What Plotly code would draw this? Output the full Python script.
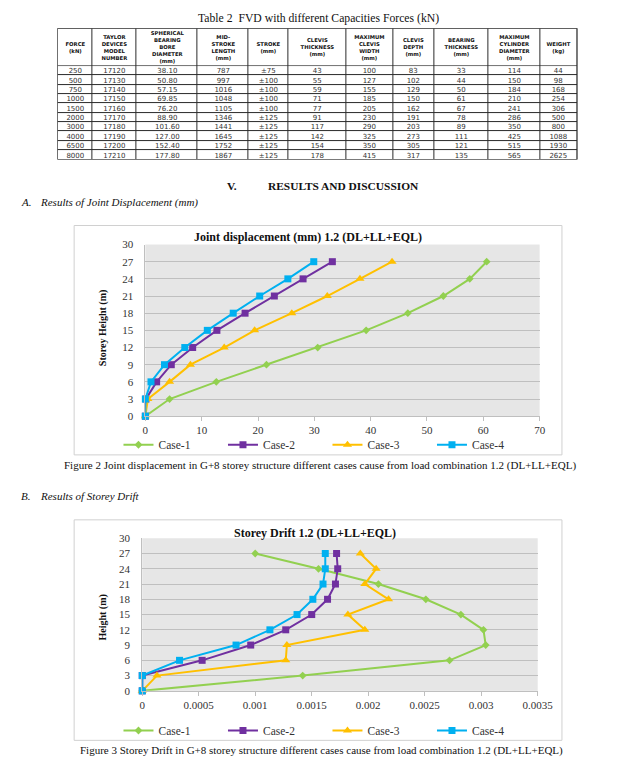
import plotly.graph_objects as go

# ---------------- Table data ----------------
table_headers = [
    "FORCE<br>(kN)",
    "TAYLOR<br>DEVICES<br>MODEL<br>NUMBER",
    "SPHERICAL<br>BEARING<br>BORE<br>DIAMETER<br>(mm)",
    "MID-<br>STROKE<br>LENGTH<br>(mm)",
    "STROKE<br>(mm)",
    "CLEVIS<br>THICKNESS<br>(mm)",
    "MAXIMUM<br>CLEVIS<br>WIDTH<br>(mm)",
    "CLEVIS<br>DEPTH<br>(mm)",
    "BEARING<br>THICKNESS<br>(mm)",
    "MAXIMUM<br>CYLINDER<br>DIAMETER<br>(mm)",
    "WEIGHT<br>(kg)",
]
force_kn = [250, 500, 750, 1000, 1500, 2000, 3000, 4000, 6500, 8000]
model_number = [17120, 17130, 17140, 17150, 17160, 17170, 17180, 17190, 17200, 17210]
bore_diameter = [38.10, 50.80, 57.15, 69.85, 76.20, 88.90, 101.60, 127.00, 152.40, 177.80]
mid_stroke_length = [787, 997, 1016, 1048, 1105, 1346, 1441, 1645, 1752, 1867]
stroke = ["±75", "±100", "±100", "±100", "±100", "±125", "±125", "±125", "±125", "±125"]
clevis_thickness = [43, 55, 59, 71, 77, 91, 117, 142, 154, 178]
max_clevis_width = [100, 127, 155, 185, 205, 230, 290, 325, 350, 415]
clevis_depth = [83, 102, 129, 150, 162, 191, 203, 273, 305, 317]
bearing_thickness = [33, 44, 50, 61, 67, 78, 89, 111, 121, 135]
max_cylinder_diameter = [114, 150, 184, 210, 241, 286, 350, 425, 515, 565]
weight_kg = [44, 98, 168, 254, 306, 500, 800, 1088, 1930, 2625]

# ---------------- Chart data ----------------
case_names = ["Case-1", "Case-2", "Case-3", "Case-4"]
storey_height = [0, 3, 6, 9, 12, 15, 18, 21, 24, 27]

disp_case1 = [0, 4.3, 12.6, 21.5, 30.6, 39.2, 46.6, 52.9, 57.6, 60.6]
disp_case2 = [0, 0.1, 2.0, 4.6, 8.4, 12.7, 17.7, 22.9, 28.0, 33.2]
disp_case3 = [0, 0.45, 4.3, 8.0, 14.0, 19.4, 26.0, 32.3, 38.1, 43.8]
disp_case4 = [0, 0.0, 1.0, 3.4, 7.0, 11.0, 15.6, 20.3, 25.3, 29.9]

drift_case1 = [0, 0.00142, 0.00272, 0.00304, 0.00302, 0.00282, 0.00251, 0.00209, 0.00156, 0.00100]
drift_case2 = [0, 0.0, 0.00053, 0.00096, 0.00127, 0.00150, 0.00164, 0.00171, 0.00173, 0.00172]
drift_case3 = [0, 0.00013, 0.00127, 0.00128, 0.00197, 0.00182, 0.00218, 0.00197, 0.00207, 0.00193]
drift_case4 = [0, 0.0, 0.00033, 0.00083, 0.00113, 0.00137, 0.00151, 0.00160, 0.00162, 0.00162]

disp_ticks = [0, 10, 20, 30, 40, 50, 60, 70]
height_ticks = [0, 3, 6, 9, 12, 15, 18, 21, 24, 27, 30]
drift_ticks = [0, 0.0005, 0.001, 0.0015, 0.002, 0.0025, 0.003, 0.0035]
drift_tick_labels = ["0", "0.0005", "0.001", "0.0015", "0.002", "0.0025", "0.003", "0.0035"]

# ---------------- Layout helpers ----------------
W, H = 642, 769


def px(x):
    return x / W


def py(y):
    return 1 - y / H


col_widths = [36.3, 44.7, 63.7, 52.3, 41.3, 59.0, 49.4, 41.3, 56.0, 53.3, 38.7]
col_edges = [0.0]
for w in col_widths:
    col_edges.append(col_edges[-1] + w)
header_h = 38.3
row_h = 9.5
n_rows = len(force_kn)
row_edges = [header_h + row_h * i for i in range(n_rows + 1)]
table_h = row_edges[-1]

body_text = []
for i in range(n_rows):
    body_text.append([
        str(force_kn[i]), str(model_number[i]), f"{bore_diameter[i]:.2f}",
        str(mid_stroke_length[i]), stroke[i], str(clevis_thickness[i]),
        str(max_clevis_width[i]), str(clevis_depth[i]), str(bearing_thickness[i]),
        str(max_cylinder_diameter[i]), str(weight_kg[i]),
    ])

colors = ["#92d050", "#7030a0", "#ffc000", "#00b0f0"]
symbols = ["diamond", "square", "triangle-up", "square"]
msizes = [6, 7, 8, 7]

SERIF = "Liberation Serif"

fig = go.Figure()

# ---- table as heatmap bricks ----
white = [[0, "#ffffff"], [1, "#ffffff"]]
fig.add_trace(go.Heatmap(
    x=col_edges, y=[0, header_h], z=[[0] * len(col_widths)], text=[table_headers],
    texttemplate="%{text}",
    textfont=dict(family="DejaVu Sans", size=5.3, color="#111111", weight="bold"),
    colorscale=white, zmin=0, zmax=1, showscale=False, xgap=1, ygap=1,
    hoverinfo="skip", xaxis="x3", yaxis="y3",
))
fig.add_trace(go.Heatmap(
    x=col_edges, y=row_edges, z=[[0] * len(col_widths) for _ in range(n_rows)], text=body_text,
    texttemplate="%{text}",
    textfont=dict(family="DejaVu Sans", size=7, color="#333333"),
    colorscale=white, zmin=0, zmax=1, showscale=False, xgap=1, ygap=1,
    hoverinfo="skip", xaxis="x3", yaxis="y3",
))

# ---- chart 1 ----
disp_series = [disp_case1, disp_case2, disp_case3, disp_case4]
for k in range(4):
    fig.add_trace(go.Scatter(
        x=disp_series[k], y=storey_height, name=case_names[k], mode="lines+markers",
        line=dict(color=colors[k], width=2),
        marker=dict(symbol=symbols[k], size=msizes[k], color=colors[k]),
        xaxis="x", yaxis="y", legend="legend", cliponaxis=False,
    ))

# ---- chart 2 ----
drift_series = [drift_case1, drift_case2, drift_case3, drift_case4]
for k in range(4):
    fig.add_trace(go.Scatter(
        x=drift_series[k], y=storey_height, name=case_names[k], mode="lines+markers",
        line=dict(color=colors[k], width=2),
        marker=dict(symbol=symbols[k], size=msizes[k], color=colors[k]),
        xaxis="x2", yaxis="y2", legend="legend2", cliponaxis=False,
    ))

tickfont = dict(family=SERIF, size=11, color="#333333")
axis_common_x = dict(showgrid=False, zeroline=False, showline=True, linecolor="#bfbfbf",
                     ticks="outside", ticklen=4, tickcolor="#bfbfbf", tickfont=tickfont,
                     fixedrange=True)
axis_common_y = dict(showgrid=True, gridcolor="#bfbfbf", gridwidth=1, zeroline=False,
                     showline=True, linecolor="#bfbfbf", ticks="", ticklabelstandoff=9,
                     tickfont=tickfont, tickvals=height_ticks, range=[0, 30], fixedrange=True)

legend_common = dict(orientation="h", xanchor="left", yanchor="middle",
                     font=dict(family=SERIF, size=11.5, color="#333333"),
                     itemwidth=30, entrywidth=59.5, entrywidthmode="pixels",
                     bgcolor="rgba(0,0,0,0)", traceorder="normal")

fig.update_layout(
    width=W, height=H, margin=dict(l=0, r=0, t=0, b=0),
    paper_bgcolor="white", plot_bgcolor="#e6e6e6",
    font=dict(family=SERIF, color="#222222"),
    xaxis=dict(domain=[px(146.7), px(553)], range=[0, 70], tickvals=disp_ticks,
               anchor="y", **axis_common_x),
    yaxis=dict(domain=[py(416.7), py(242.3)], anchor="x", **axis_common_y),
    xaxis2=dict(domain=[px(143.5), px(551)], range=[0, 0.0035], tickvals=drift_ticks,
                ticktext=drift_tick_labels, anchor="y2", **axis_common_x),
    yaxis2=dict(domain=[py(695.7), py(540.7)], anchor="x2", **axis_common_y),
    xaxis3=dict(domain=[px(56), px(592)], range=[0, col_edges[-1]], visible=False,
                anchor="y3", fixedrange=True),
    yaxis3=dict(domain=[py(22.7 + table_h), py(22.7)], range=[table_h, 0], visible=False,
                anchor="x3", fixedrange=True),
    legend=dict(x=px(119), y=py(445.7), **legend_common),
    legend2=dict(x=px(119), y=py(736), **legend_common),
    showlegend=True,
)

shapes = [
    dict(type="rect", xref="x3", yref="y3", x0=0, x1=col_edges[-1], y0=0, y1=table_h,
         fillcolor="#2b2b2b", line=dict(width=0), layer="below"),
    dict(type="rect", xref="x3", yref="y3", x0=0, x1=col_edges[-1], y0=0, y1=table_h,
         fillcolor="rgba(0,0,0,0)", line=dict(width=1, color="#2b2b2b"), layer="above"),
    dict(type="rect", xref="paper", yref="paper", x0=px(73.3), x1=px(576), y0=py(456), y1=py(223),
         fillcolor="rgba(0,0,0,0)", line=dict(width=1, color="#d0d0d0"), layer="below"),
    dict(type="rect", xref="paper", yref="paper", x0=px(73.3), x1=px(576), y0=py(746), y1=py(522),
         fillcolor="rgba(0,0,0,0)", line=dict(width=1, color="#d0d0d0"), layer="below"),
]
fig.update_layout(shapes=shapes)


def ann(text, x, y, size, xanchor="center", bold=False, italic=False, angle=0, color="#111111"):
    fig.add_annotation(
        text=text, x=px(x), y=py(y), xref="paper", yref="paper", showarrow=False,
        xanchor=xanchor, yanchor="middle", textangle=angle,
        font=dict(family=SERIF, size=size, color=color,
                  weight="bold" if bold else "normal",
                  style="italic" if italic else "normal"),
    )


ann("Table 2 \u00a0FVD with different Capacities Forces (kN)", 325, 12.7, 11.7)
ann("V.", 229, 183.3, 11.4, xanchor="left", bold=True)
ann("RESULTS AND DISCUSSION", 271, 183.3, 11.4, xanchor="left", bold=True)
ann("A.", 16, 199.3, 11, xanchor="left", italic=True)
ann("Results of Joint Displacement (mm)", 36.4, 199.3, 11, xanchor="left", italic=True)
ann("Joint displacement (mm) 1.2 (DL+LL+EQL)", 314.5, 234.3, 12, bold=True)
ann("Storey Height (m)", 103.3, 327, 10, bold=True, angle=-90)
ann("Figure 2 Joint displacement in G+8 storey structure different cases cause from load combination 1.2 (DL+LL+EQL)",
    327, 466.7, 11)
ann("B.", 16, 497.3, 11, xanchor="left", italic=True)
ann("Results of Storey Drift", 36.4, 497.3, 11, xanchor="left", italic=True)
ann("Storey Drift 1.2 (DL+LL+EQL)", 322, 535, 12, bold=True)
ann("Height (m)", 103.3, 621, 10, bold=True, angle=-90)
ann("Figure 3 Storey Drift in G+8 storey structure different cases cause from load combination 1.2 (DL+LL+EQL)",
    328, 756, 11)

fig.write_html("out.html", config={"displayModeBar": False},
               post_script="document.body.style.margin='0';")
